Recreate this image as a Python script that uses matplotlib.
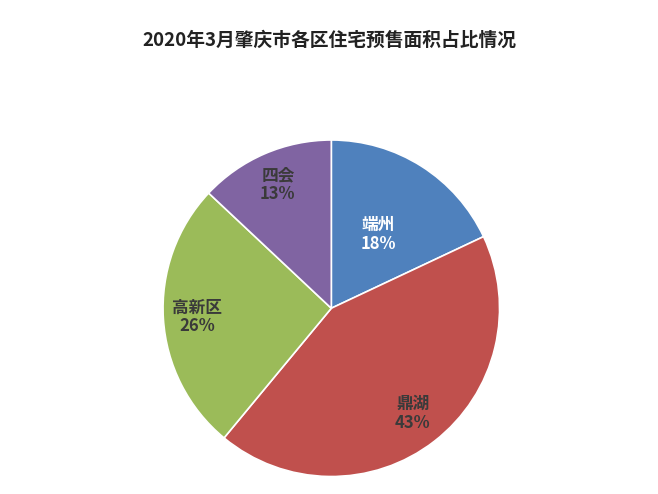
import numpy as np
import matplotlib
matplotlib.use('Agg')
import matplotlib.pyplot as plt
from matplotlib import font_manager

cjk = sorted({f.name for f in font_manager.fontManager.ttflist if 'Sans CJK' in f.name})
sc = [n for n in cjk if 'SC' in n]
plt.rcParams['font.family'] = [(sc or cjk or ['Noto Sans CJK SC'])[0], 'DejaVu Sans']

districts = ['端州', '鼎湖', '高新区', '四会']
shares = [18, 43, 26, 13]
colors = ['#4F81BD', '#C0504D', '#9BBB59', '#8064A2']
label_colors = ['white', '#3a3a3a', '#3a3a3a', '#3a3a3a']
label_r = [0.52, 0.79, 0.8, 0.8]

fig = plt.figure(figsize=(6.58, 4.94), dpi=100)
fig.text(0.5, 0.918, '2020年3月肇庆市各区住宅预售面积占比情况', ha='center', va='center',
         fontsize=13.5, fontweight='bold', color='#222222')

ax = fig.add_axes([0.245, 0.032, 0.517, 0.688])
wedges, _ = ax.pie(shares, colors=colors, startangle=90, counterclock=False,
                   wedgeprops=dict(edgecolor='white', linewidth=1.2))
for w, name, s, c, r in zip(wedges, districts, shares, label_colors, label_r):
    ang = np.deg2rad((w.theta1 + w.theta2) / 2)
    ax.text(r * np.cos(ang), r * np.sin(ang), f'{name}\n{s}%', ha='center', va='center',
            fontsize=12, fontweight='bold', color=c, linespacing=1.05)
ax.set_xlim(-1.01, 1.01)
ax.set_ylim(-1.01, 1.01)
ax.set_aspect('equal')

fig.savefig('out.png', dpi=100, facecolor='white')
